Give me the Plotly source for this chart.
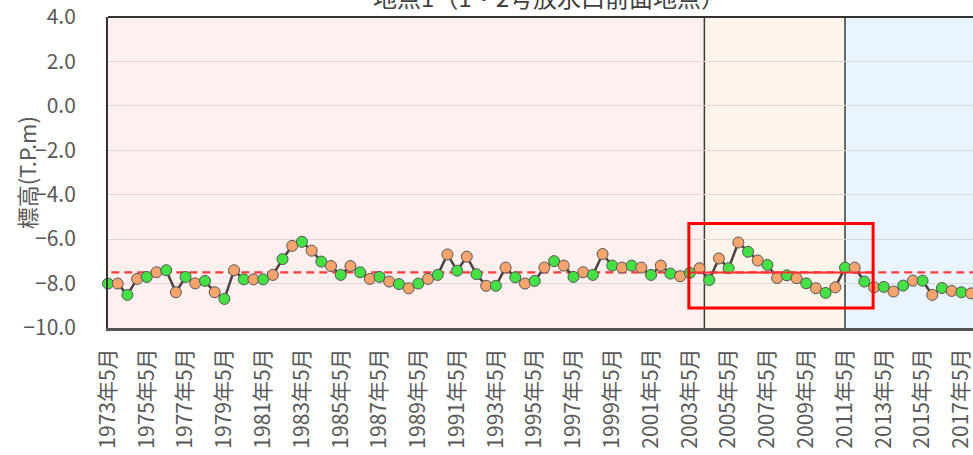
import plotly.graph_objects as go

# Survey dates: twice a year (May / November), 1973-2017
years = list(range(1973, 2018))
months = [5, 11]
dates = [f"{y}年{m}月" for y in years for m in months]

# Seabed elevation (T.P. m) at each survey
elevation = [
    -8.00, -8.00, -8.51, -7.79, -7.70, -7.49, -7.40, -8.39, -7.70, -7.99,
    -7.88, -8.39, -8.69, -7.40, -7.81, -7.81, -7.81, -7.61, -6.90, -6.30,
    -6.12, -6.52, -7.01, -7.21, -7.61, -7.21, -7.49, -7.79, -7.70, -7.91,
    -8.02, -8.21, -8.00, -7.79, -7.61, -6.69, -7.42, -6.79, -7.58, -8.10,
    -8.10, -7.28, -7.72, -8.00, -7.88, -7.28, -6.99, -7.19, -7.70, -7.49,
    -7.61, -6.67, -7.19, -7.28, -7.19, -7.28, -7.61, -7.19, -7.55, -7.67,
    -7.52, -7.31, -7.84, -6.87, -7.31, -6.15, -6.57, -6.96, -7.16, -7.75,
    -7.63, -7.76, -7.99, -8.21, -8.42, -8.17, -7.28, -7.28, -7.91, -8.17,
    -8.15, -8.36, -8.09, -7.87, -7.87, -8.51, -8.20, -8.33, -8.39, -8.44,
]

# Long-term average level
mean_level = -7.5

# Period boundaries (first survey of each later period)
period_starts = ["2004年5月", "2011年5月"]
# Highlighted interval and its elevation band
focus_from, focus_to = "2003年5月", "2012年11月"
focus_low, focus_high = -9.1, -5.3

tick_labels = dates[::4]

title_text = "地点1（1・2号放水口前面地点）"
y_title = "標高(T.P.m)"

FONT = "Noto Sans CJK JP"
GRAY = "#595959"
month_colors = {5: "#44E044", 11: "#F4A46C"}

idx = {d: i for i, d in enumerate(dates)}
colors = [month_colors[m] for y in years for m in months]

fig = go.Figure()

# Background shading per period
b1 = idx[period_starts[0]] - 0.5
b2 = idx[period_starts[1]]
bands = [(-1, b1, "#FFEFEF"), (b1, b2, "#FFF5EB"), (b2, len(dates) + 2, "#EAF4FE")]
for x0, x1, c in bands:
    fig.add_shape(type="rect", xref="x", yref="paper", x0=x0, x1=x1, y0=0, y1=1,
                  fillcolor=c, line_width=0, layer="below")
for xb in (b1, b2):
    fig.add_shape(type="line", xref="x", yref="paper", x0=xb, x1=xb, y0=0, y1=1,
                  line=dict(color="#3A3A3A", width=1.5), layer="below")

# Average level line (dashed)
fig.add_trace(go.Scatter(
    x=[-1, len(dates) + 2], y=[mean_level, mean_level], mode="lines",
    line=dict(color="#FF3B3B", width=2.2, dash="8px,5px"),
    hoverinfo="skip", showlegend=False, cliponaxis=True,
))

# Elevation series
fig.add_trace(go.Scatter(
    x=list(range(len(dates))), y=elevation, mode="lines+markers",
    line=dict(color="#4A4242", width=2.5),
    marker=dict(size=11, color=colors, line=dict(color="#555555", width=1)),
    showlegend=False, cliponaxis=False,
))

# Highlight box with solid average segment
fx0, fx1 = idx[focus_from] - 0.1, idx[focus_to] - 0.1
fig.add_shape(type="line", xref="x", yref="y", x0=fx0, x1=fx1,
              y0=mean_level, y1=mean_level, line=dict(color="#FF3030", width=2))
fig.add_shape(type="rect", xref="x", yref="y", x0=fx0, x1=fx1,
              y0=focus_low, y1=focus_high, line=dict(color="#FF0000", width=3))

# Top frame line
fig.add_shape(type="line", xref="paper", yref="paper", x0=0, x1=1, y0=1, y1=1,
              line=dict(color="#333333", width=2))

# Chart title (sits at the very top edge)
fig.add_annotation(text=title_text, xref="paper", yref="paper", x=0.51, y=1.0,
                   yshift=1, yanchor="bottom", xanchor="center", showarrow=False,
                   font=dict(family=FONT, size=24, color="#404040"))

# Y-axis title
fig.add_annotation(text=y_title, xref="paper", yref="paper", x=-0.095, y=0.5,
                   xanchor="center", yanchor="middle", textangle=-90, showarrow=False,
                   font=dict(family=FONT, size=22, color=GRAY))

fig.update_layout(
    width=973, height=455,
    margin=dict(l=108, r=0, t=17, b=127),
    paper_bgcolor="white", plot_bgcolor="white",
    font=dict(family=FONT, color=GRAY),
    xaxis=dict(
        range=[0, 89.2], tickmode="array",
        tickvals=[idx[t] for t in tick_labels], ticktext=tick_labels,
        tickangle=-90, tickfont=dict(family=FONT, size=21, color=GRAY),
        showgrid=False, zeroline=False, showline=True, linecolor="#555555",
        linewidth=3, ticks="", ticklabelstandoff=9, automargin=False,
        ticklabeloverflow="allow",
    ),
    yaxis=dict(
        range=[-10, 4], dtick=2, tickformat=".1f",
        tickfont=dict(family=FONT, size=21, color=GRAY),
        showgrid=True, gridcolor="#D9D9D9", gridwidth=1, zeroline=False,
        showline=True, linecolor="#333333", linewidth=2, ticks="",
        ticklabelstandoff=26, automargin=False,
    ),
)

fig.write_html("out.html")
